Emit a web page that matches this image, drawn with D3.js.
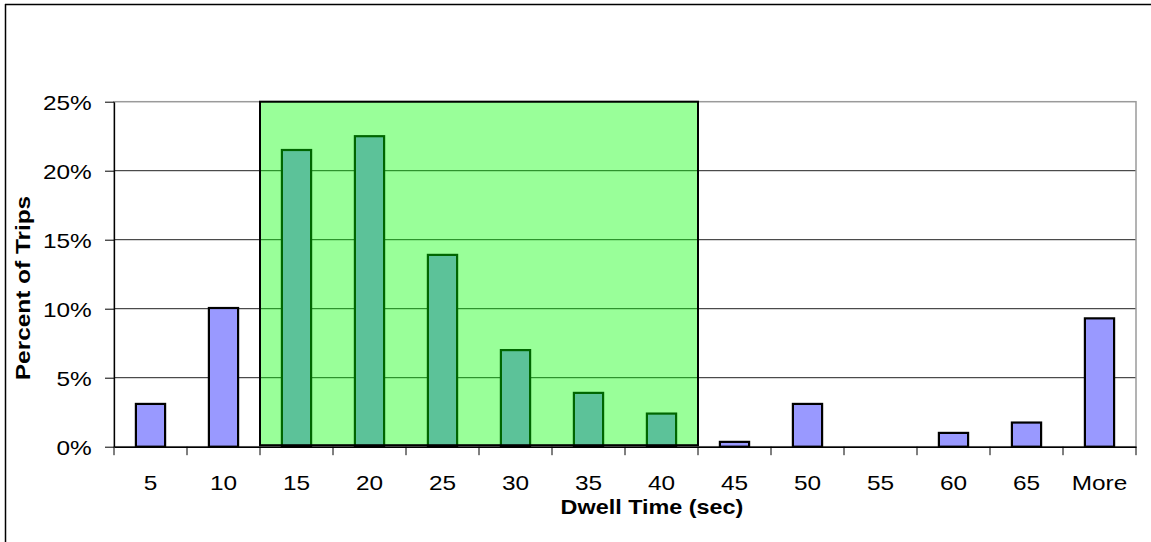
<!DOCTYPE html>
<html>
<head>
<meta charset="utf-8">
<script src="https://cdn.jsdelivr.net/npm/d3@7"></script>
<style>
    body { margin: 0; background: #fff; }
    svg { display: block; }
</style>
</head>
<body>
<script>
// dwell time bins (sec) and share of trips (%)
let categories = ["5", "10", "15", "20", "25", "30", "35", "40", "45", "50", "55", "60", "65", "More"];
let percentOfTrips = [3.1, 10.05, 21.5, 22.5, 13.9, 7.0, 3.9, 2.4, 0.35, 3.1, 0, 1.0, 1.75, 9.3];
let highlighted = ["15", "20", "25", "30", "35", "40"];
let yTicks = [0, 5, 10, 15, 20, 25];

let W = 1151, H = 542;
let margin = {top: 101.7, right: 15, bottom: 95.3, left: 114},
    width = W - margin.left - margin.right,
    height = H - margin.top - margin.bottom;

let stretch = 1.22; // the labels in the picture run wider than plain Arial

let svg = d3.select("body").append("svg")
    .attr("width", W)
    .attr("height", H);

// frame of the pasted chart, cut off at right and bottom
svg.append("line")
    .attr("x1", 5).attr("x2", W).attr("y1", 4.5).attr("y2", 4.5)
    .style("stroke", "#000").style("stroke-width", 1.5);
svg.append("line")
    .attr("x1", 5.5).attr("x2", 5.5).attr("y1", 4).attr("y2", H)
    .style("stroke", "#000").style("stroke-width", 1.5);

let g = svg.append("g")
    .attr("transform", "translate(" + margin.left + "," + margin.top + ")");

let x = d3.scaleBand()
    .domain(categories)
    .range([0, width])
    .paddingInner(0.6)
    .paddingOuter(0.3);

let xEdge = d3.scaleBand()
    .domain(categories)
    .range([0, width])
    .padding(0);

let y = d3.scaleLinear()
    .domain([0, 25])
    .range([height, 0]);

// gridlines
g.selectAll(".grid")
    .data(yTicks.slice(1, -1))
    .enter().append("line")
    .attr("class", "grid")
    .attr("x1", 0).attr("x2", width)
    .attr("y1", function (d) { return y(d); })
    .attr("y2", function (d) { return y(d); })
    .style("stroke", "#222")
    .style("stroke-width", 1);

// plot area border (grey top and right)
g.append("rect")
    .attr("x", 0).attr("y", 0)
    .attr("width", width).attr("height", height)
    .style("fill", "none")
    .style("stroke", "#9a9a9a")
    .style("stroke-width", 1.5);

let rows = categories.map(function (c, i) {
    return {cat: c, value: percentOfTrips[i]};
});

g.selectAll(".bar")
    .data(rows)
    .enter().append("rect")
    .attr("class", "bar")
    .attr("x", function (d) { return x(d.cat); })
    .attr("width", x.bandwidth())
    .attr("y", function (d) { return y(d.value); })
    .attr("height", function (d) { return y(0) - y(d.value); })
    .style("fill", "#9999ff")
    .style("stroke", "#000")
    .style("stroke-width", 2.2);

// translucent green band over the 15-40 sec bins
let first = highlighted[0], last = highlighted[highlighted.length - 1];
g.append("rect")
    .attr("x", xEdge(first))
    .attr("y", y(25))
    .attr("width", xEdge(last) + xEdge.bandwidth() - xEdge(first))
    .attr("height", y(0) - y(25) - 1.5)
    .style("fill", "rgba(0,255,0,0.4)")
    .style("stroke", "#000")
    .style("stroke-width", 2);

// y axis
let yAxis = d3.axisLeft(y)
    .tickValues(yTicks)
    .tickFormat(function (d) { return d + "%"; })
    .tickSize(9)
    .tickSizeOuter(0);

let yAx = g.append("g").attr("class", "y axis").call(yAxis);
yAx.select(".domain").style("stroke", "#000").style("stroke-width", 1.3);
yAx.selectAll(".tick line").style("stroke", "#000");
yAx.selectAll(".tick text")
    .attr("x", -22.3 / stretch)
    .attr("dy", "0.37em")
    .attr("transform", "scale(" + stretch + ",1)")
    .style("font-family", "'Liberation Sans', Arial, sans-serif")
    .style("font-size", "20px")
    .style("fill", "#000");

// x axis: labels at bin centres, tick marks on bin edges
let xAxis = d3.axisBottom(x)
    .tickSize(0)
    .tickSizeOuter(0)
    .tickPadding(29.5);

let xAx = g.append("g")
    .attr("class", "x axis")
    .attr("transform", "translate(0," + height + ")")
    .call(xAxis);
xAx.select(".domain").style("stroke", "#000").style("stroke-width", 1.5);
xAx.selectAll(".tick text")
    .attr("transform", "scale(" + stretch + ",1)")
    .style("font-family", "'Liberation Sans', Arial, sans-serif")
    .style("font-size", "20px")
    .style("fill", "#000");

let edges = categories.map(function (c) { return xEdge(c); }).concat([width]);
xAx.selectAll(".edge")
    .data(edges)
    .enter().append("line")
    .attr("class", "edge")
    .attr("x1", function (d) { return d; })
    .attr("x2", function (d) { return d; })
    .attr("y1", 0).attr("y2", 8.5)
    .style("stroke", "#000")
    .style("stroke-width", 1);

// axis titles
svg.append("text")
    .attr("transform", "translate(30,288) rotate(-90) scale(" + stretch + ",1)")
    .style("text-anchor", "middle")
    .style("font-family", "'Liberation Sans', Arial, sans-serif")
    .style("font-weight", "bold")
    .style("font-size", "20px")
    .text("Percent of Trips");

svg.append("text")
    .attr("transform", "translate(652,514) scale(1.17,1)")
    .style("text-anchor", "middle")
    .style("font-family", "'Liberation Sans', Arial, sans-serif")
    .style("font-weight", "bold")
    .style("font-size", "20px")
    .text("Dwell Time (sec)");
</script>
</body>
</html>
